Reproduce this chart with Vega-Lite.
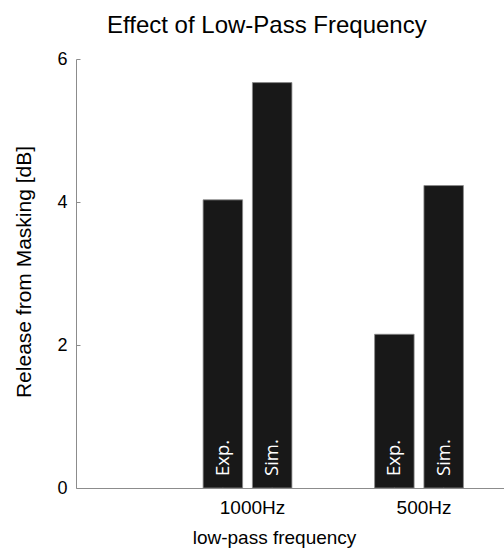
{
  "$schema": "https://vega.github.io/schema/vega-lite/v6.json",
  "width": 428,
  "height": 429,
  "autosize": {"type": "none"},
  "padding": {"left": 76, "top": 59, "right": 0, "bottom": 60},
  "background": "white",
  "title": {
    "text": "Effect of Low-Pass Frequency",
    "font": "Liberation Sans",
    "fontSize": 24,
    "fontWeight": "normal",
    "color": "#000000",
    "anchor": "start",
    "frame": "group",
    "dx": 31,
    "dy": 29,
    "baseline": "alphabetic",
    "offset": 22
  },
  "data": {
    "values": [
      {"freq": "1000Hz", "kind": "Exp.", "release": 4.03},
      {"freq": "1000Hz", "kind": "Sim.", "release": 5.67},
      {"freq": "500Hz", "kind": "Exp.", "release": 2.15},
      {"freq": "500Hz", "kind": "Sim.", "release": 4.23}
    ]
  },
  "encoding": {
    "x": {
      "field": "freq",
      "type": "nominal",
      "sort": ["1000Hz", "500Hz"],
      "scale": {"paddingInner": 0.4822, "paddingOuter": 0.4889, "align": 0.758},
      "axis": {
        "title": "low-pass frequency",
        "ticks": false,
        "tickSize": 0,
        "labelAngle": 0,
        "labelPadding": 25,
        "labelOffset": 5,
        "labelBaseline": "alphabetic",
        "labelFont": "Liberation Sans",
        "labelFontSize": 19,
        "labelColor": "#000000",
        "titleFont": "Liberation Sans",
        "titleFontSize": 19,
        "titleFontWeight": "normal",
        "titleColor": "#000000",
        "titleX": 198,
        "titleY": 55,
        "titleAlign": "center",
        "titleBaseline": "alphabetic",
        "domainColor": "#8c8c8c",
        "domainWidth": 1,
        "grid": false
      }
    },
    "xOffset": {
      "field": "kind",
      "type": "nominal",
      "sort": ["Exp.", "Sim."],
      "scale": {"paddingInner": 0.199, "paddingOuter": 0}
    }
  },
  "layer": [
    {
      "mark": {"type": "bar", "color": "#181818", "stroke": "#8a8a8a", "strokeWidth": 0.8},
      "encoding": {
        "y": {
          "field": "release",
          "type": "quantitative",
          "scale": {"domain": [0, 6], "nice": false},
          "axis": {
            "title": "Release from Masking [dB]",
            "values": [0, 2, 4, 6],
            "format": ".0f",
            "grid": false,
            "tickSize": -4,
            "tickColor": "#8c8c8c",
            "domainColor": "#8c8c8c",
            "domainWidth": 1,
            "labelPadding": 13,
            "labelFont": "Liberation Sans",
            "labelFontSize": 18,
            "labelColor": "#000000",
            "titleFont": "Liberation Sans",
            "titleFontSize": 21,
            "titleFontWeight": "normal",
            "titleColor": "#000000",
            "titleX": -46,
            "titleY": 212.5,
            "titleAlign": "center",
            "titleBaseline": "alphabetic",
            "titleAngle": -90
          }
        }
      }
    },
    {
      "mark": {
        "type": "text",
        "angle": -90,
        "align": "left",
        "baseline": "middle",
        "dx": 12,
        "font": "Open Sans",
        "fontSize": 18.5,
        "color": "#ffffff"
      },
      "encoding": {
        "y": {"datum": 0, "type": "quantitative"},
        "text": {"field": "kind"}
      }
    },
    {
      "mark": {"type": "rule", "color": "#555555", "strokeDash": [1, 5], "strokeWidth": 1, "yOffset": -1},
      "encoding": {"y": {"datum": 0, "type": "quantitative"}}
    }
  ],
  "config": {"view": {"stroke": null}}
}
